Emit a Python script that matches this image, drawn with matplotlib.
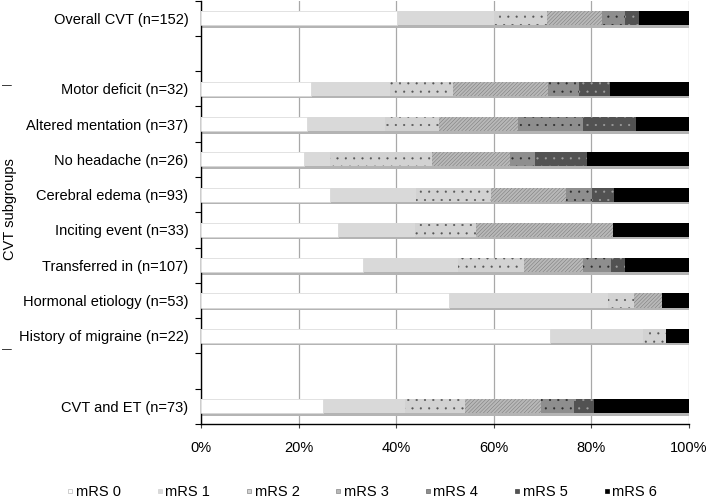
import matplotlib
matplotlib.use("Agg")
import matplotlib.pyplot as plt
from matplotlib.lines import Line2D
import numpy as np

plt.rcParams['font.family'] = ['Liberation Sans', 'DejaVu Sans']

categories = ["Overall CVT (n=152)", "", "Motor deficit (n=32)", "Altered mentation (n=37)",
              "No headache (n=26)", "Cerebral edema (n=93)", "Inciting event (n=33)",
              "Transferred in (n=107)", "Hormonal etiology (n=53)", "History of migraine (n=22)",
              "", "CVT and ET (n=73)"]
series = ["mRS 0", "mRS 1", "mRS 2", "mRS 3", "mRS 4", "mRS 5", "mRS 6"]

mrs0 = [40.1, 0, 22.6, 21.7, 21.1, 26.4, 28.1, 33.1, 50.9, 71.5, 0, 25.1]
mrs1 = [20.0, 0, 16.1, 16.1, 5.3, 17.6, 15.8, 19.6, 32.4, 19.0, 0, 16.7]
mrs2 = [10.9, 0, 13.0, 11.0, 21.0, 15.4, 12.5, 13.4, 5.4, 4.8, 0, 12.4]
mrs3 = [11.1, 0, 19.5, 16.2, 15.9, 15.3, 28.0, 12.1, 5.7, 0, 0, 15.4]
mrs4 = [4.8, 0, 6.3, 13.3, 5.1, 5.5, 0, 5.8, 0, 0, 0, 6.8]
mrs5 = [2.9, 0, 6.4, 10.8, 10.6, 4.5, 0, 2.9, 0, 0, 0, 4.2]
mrs6 = [10.2, 0, 16.1, 10.9, 21.0, 15.3, 15.6, 13.1, 5.6, 4.7, 0, 19.4]
values = [mrs0, mrs1, mrs2, mrs3, mrs4, mrs5, mrs6]
xticklabels = ["0%", "20%", "40%", "60%", "80%", "100%"]

faces = ["#ffffff", "#d9d9d9", "#d2d2d2", "#b8b8b8", "#8e8e8e", "#525252", "#000000"]
hatch_cols = ["#ffffff", "#d9d9d9", "#555555", "#6e6e6e", "#2a2a2a", "#a0a0a0", "#000000"]
hatches = [None, None, "..", "/////////", "..", "..", None]

fig = plt.figure(figsize=(7.09, 5.0), dpi=100)
ax = fig.add_axes([201/709, 1 - 424/500, 488/709, 423.4/500])

pos = np.arange(len(categories))
bh = 0.40
plt.rcParams['hatch.linewidth'] = 0.3

totals = np.array([sum(v[i] for v in values) for i in range(len(categories))])
has = totals > 0
ax.barh(pos[has] + 0.07, totals[has], height=bh, color="#b4b4b4", linewidth=0, zorder=2)

left = np.zeros(len(categories))
for k, s in enumerate(series):
    v = np.array(values[k], dtype=float)
    ax.barh(pos, v, left=left, height=bh, color=faces[k], edgecolor=hatch_cols[k],
            hatch=hatches[k], linewidth=0, zorder=3)
    left += v
ax.barh(pos[has], np.array(mrs0)[has], height=bh, facecolor="none",
        edgecolor="#dddddd", linewidth=0.6, zorder=4)

ax.set_xlim(0, 100)
ax.set_ylim(len(categories) - 0.5, -0.5)
ax.set_xticks(np.arange(0, 101, 20))
ax.set_xticklabels(xticklabels, fontsize=10.5)
ax.set_yticks(pos)
ax.set_yticklabels(categories, fontsize=10.5)
ax.tick_params(axis='y', which='major', length=0, pad=9)
ax.set_yticks(np.arange(-0.5, len(categories) + 0.5, 1), minor=True)
ax.tick_params(axis='y', which='minor', length=4, width=0.8, direction='out')
ax.tick_params(axis='x', length=3, width=0.8, pad=9, color="#444444")
ax.grid(axis='x', color="#a8a8a8", linewidth=0.9, zorder=0)
ax.set_axisbelow(True)
for sp in ["top", "right"]:
    ax.spines[sp].set_visible(False)
ax.spines['left'].set_linewidth(1.0)
ax.spines['bottom'].set_linewidth(1.0)

fig.text(10/709, 1 - 209/500, "CVT subgroups", rotation=90, ha='center', va='center', fontsize=10.5)
fig.text(7/709, 1 - 85/500, "\u2014", ha='center', va='center', fontsize=7)
fig.text(7/709, 1 - 349/500, "\u2014", ha='center', va='center', fontsize=7)

edge_l = ["#bbbbbb", "#d0d0d0", "#888888", "#888888", "#666666", "#444444", "#000000"]
handles = [Line2D([], [], linestyle='none', marker='s', markersize=3.2,
                  markerfacecolor=faces[k], markeredgecolor=edge_l[k], markeredgewidth=0.5)
           for k in range(len(series))]
fig.legend(handles, series, loc='center', bbox_to_anchor=(0.511, 1 - 492/500), ncol=7,
           frameon=False, fontsize=10.5, handlelength=0.35,
           handletextpad=0.2, columnspacing=2.5, borderaxespad=0)

fig.savefig("out.png", dpi=100)
